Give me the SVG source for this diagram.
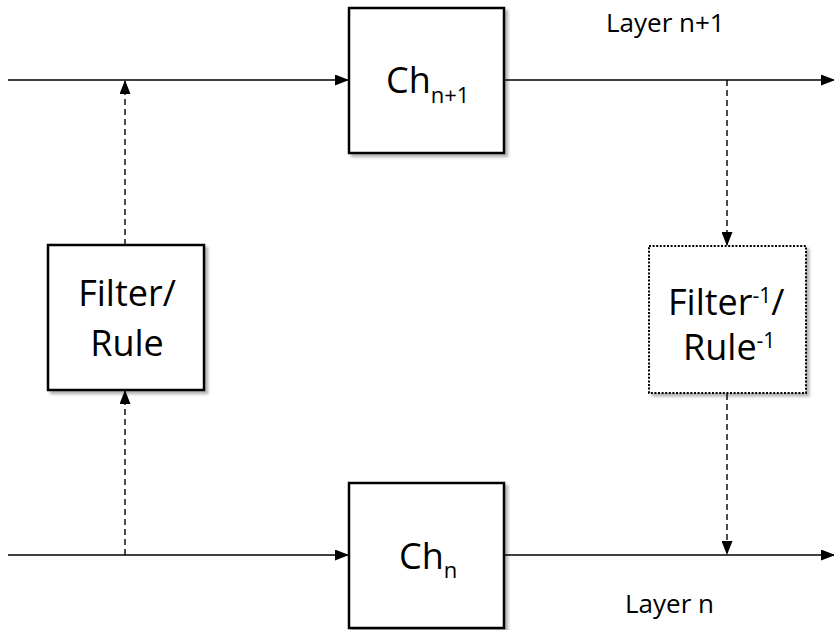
<svg xmlns="http://www.w3.org/2000/svg" width="834" height="630" viewBox="0 0 834 630">
<style>
.box{fill:#fff;stroke:#000;stroke-width:2.5;filter:url(#sh)}
.dot{stroke-dasharray:2,1.6;stroke-width:2}
.ln{stroke:#000;stroke-width:1.6;fill:none}
.ds{stroke:#000;stroke-width:1.4;fill:none;stroke-dasharray:6,4}
text{font-family:"Open Sans","Liberation Sans",sans-serif;fill:#000}
.big{font-size:36px}
.sub{font-size:22px}
.sup{font-size:21px}
.lab{font-size:26px}
</style>
<defs>
<marker id="ah" markerWidth="14" markerHeight="11" refX="13" refY="5.5" orient="auto" markerUnits="userSpaceOnUse"><path d="M0,0 L14,5.5 L0,11 Z" fill="#000"/></marker>
<filter id="sh" x="-10%" y="-10%" width="130%" height="130%"><feGaussianBlur in="SourceAlpha" stdDeviation="1.8"/><feOffset dx="3" dy="3"/><feComponentTransfer><feFuncA type="linear" slope="0.3"/></feComponentTransfer><feMerge><feMergeNode/><feMergeNode in="SourceGraphic"/></feMerge></filter>
</defs>
<rect width="834" height="630" fill="#fff"/>
<g id="connectors">
<line class="ln" x1="8" y1="80" x2="348" y2="80" marker-end="url(#ah)"/>
<line class="ln" x1="504" y1="80" x2="834" y2="80" marker-end="url(#ah)"/>
<line class="ln" x1="8" y1="555" x2="348" y2="555" marker-end="url(#ah)"/>
<line class="ln" x1="504" y1="555" x2="834" y2="555" marker-end="url(#ah)"/>
<line class="ds" x1="125" y1="555" x2="125" y2="391" marker-end="url(#ah)"/>
<line class="ds" x1="125" y1="245" x2="125" y2="81" marker-end="url(#ah)"/>
<line class="ds" x1="727" y1="80" x2="727" y2="245" marker-end="url(#ah)"/>
<line class="ds" x1="727" y1="394" x2="727" y2="554" marker-end="url(#ah)"/>
</g>
<g id="ch_n1">
<rect class="box" x="349" y="8" width="155" height="145"/>
<text x="386" y="93" class="big">Ch<tspan class="sub" dy="10">n+1</tspan></text>
</g>
<g id="ch_n">
<rect class="box" x="349" y="483" width="155" height="145"/>
<text x="399" y="569" class="big">Ch<tspan class="sub" dy="9">n</tspan></text>
</g>
<g id="filter">
<rect class="box" x="48" y="245" width="156" height="145"/>
<text x="127" y="306" class="big" text-anchor="middle">Filter/</text>
<text x="127" y="356" class="big" text-anchor="middle">Rule</text>
</g>
<g id="filter_inv">
<rect class="box dot" x="649" y="246" width="157" height="147"/>
<text x="668" y="315" class="big">Filter<tspan class="sup" dy="-12">-1</tspan><tspan dy="12">/</tspan></text>
<text x="683" y="360" class="big">Rule<tspan class="sup" dy="-12">-1</tspan></text>
</g>
<g id="labels">
<text x="606" y="32" class="lab">Layer n+1</text>
<text x="625" y="613" class="lab">Layer n</text>
</g>
</svg>
